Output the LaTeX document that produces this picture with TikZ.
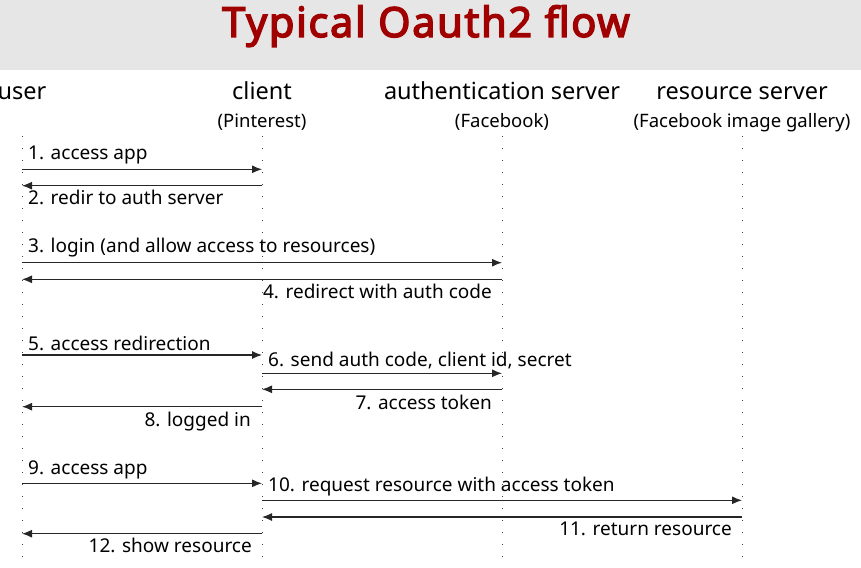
\documentclass[tikz,border=0pt]{standalone}
\usepackage{fontspec}
\setmainfont{Noto Sans}
\newfontfamily\titlefont{Noto Sans}[FakeBold=3.5, LetterSpace=4]
\usetikzlibrary{arrows.meta}
\definecolor{titlered}{HTML}{A00000}
\definecolor{bargray}{HTML}{E6E6E6}

\begin{document}
\begin{tikzpicture}[x=1pt, y=-1pt, >={Latex[length=10pt,width=8pt]},
    actor/.style={font=\fontsize{23.5}{28}\selectfont, inner sep=0pt, anchor=base},
    sub/.style={font=\fontsize{18.5}{22}\selectfont, inner sep=0pt, anchor=base},
    lifeline/.style={dash pattern=on 1pt off 11pt, line width=0.9pt, black!75},
    msg/.style={->, line width=1.1pt, black!85},
    lbl/.style={font=\fontsize{19}{22}\selectfont, inner sep=0pt}]

    % 画布与标题栏
    \useasboundingbox (0,0) rectangle (861,567);
    \fill[bargray] (0,0) rectangle (861,70);
    \node[font=\titlefont\fontsize{41.5}{48}\selectfont, text=titlered, inner sep=0pt, anchor=base]
        (title) at (426,37) {Typical Oauth2 flow};

    % 参与者
    \node[actor] (user)   at (22,100)  {user};
    \node[actor] (client) at (262,100) {client};
    \node[actor] (auth)   at (502,100) {authentication server};
    \node[actor] (res)    at (742,100) {resource server};
    \node[sub] (clientsub) at (262,128) {(Pinterest)};
    \node[sub] (authsub)   at (502,128) {(Facebook)};
    \node[sub] (ressub)    at (742,128) {(Facebook image gallery)};

    % 生命线
    \coordinate (userend)   at (22,557);
    \coordinate (clientend) at (262,557);
    \coordinate (authend)   at (502,557);
    \coordinate (resend)    at (742,557);
    \draw[lifeline] (user.south |- 0,136)   -- (userend);
    \draw[lifeline] (client.south |- 0,136) -- (clientend);
    \draw[lifeline] (auth.south |- 0,136)   -- (authend);
    \draw[lifeline] (res.south |- 0,136)    -- (resend);

    % 消息 1-2
    \draw[msg] (userend |- 0,169.3) -- (clientend |- 0,169.3);
    \node[lbl, anchor=base west] (m1) at (28,159) {1. access app};
    \draw[msg] (clientend |- 0,185.7) -- (userend |- 0,185.7);
    \node[lbl, anchor=base west] (m2) at (28,204) {2. redir to auth server};

    % 消息 3-4
    \draw[msg] (userend |- 0,262.7) -- (authend |- 0,262.7);
    \node[lbl, anchor=base west] (m3) at (28,252) {3. login (and allow access to resources)};
    \draw[msg] (authend |- 0,279.3) -- (userend |- 0,279.3);
    \node[lbl, anchor=base east] (m4) at (492,298) {4. redirect with auth code};

    % 消息 5-8
    \draw[msg] (userend |- 0,355) -- (clientend |- 0,355);
    \node[lbl, anchor=base west] (m5) at (28,350.7) {5. access redirection};
    \draw[msg] (clientend |- 0,373.3) -- (authend |- 0,373.3);
    \node[lbl, anchor=base west] (m6) at (268,366) {6. send auth code, client id, secret};
    \draw[msg] (authend |- 0,389.3) -- (clientend |- 0,389.3);
    \node[lbl, anchor=base east] (m7) at (492,409) {7. access token};
    \draw[msg] (clientend |- 0,406.7) -- (userend |- 0,406.7);
    \node[lbl, anchor=base east] (m8) at (251,426) {8. logged in};

    % 消息 9-12
    \draw[msg] (userend |- 0,483.3) -- (clientend |- 0,483.3);
    \node[lbl, anchor=base west] (m9) at (28,474) {9. access app};
    \draw[msg] (clientend |- 0,500.3) -- (resend |- 0,500.3);
    \node[lbl, anchor=base west] (m10) at (268,491) {10. request resource with access token};
    \draw[msg] (resend |- 0,517) -- (clientend |- 0,517);
    \node[lbl, anchor=base east] (m11) at (732,535.7) {11. return resource};
    \draw[msg] (clientend |- 0,533.7) -- (userend |- 0,533.7);
    \node[lbl, anchor=base east] (m12) at (252,552.7) {12. show resource};

\end{tikzpicture}
\end{document}
